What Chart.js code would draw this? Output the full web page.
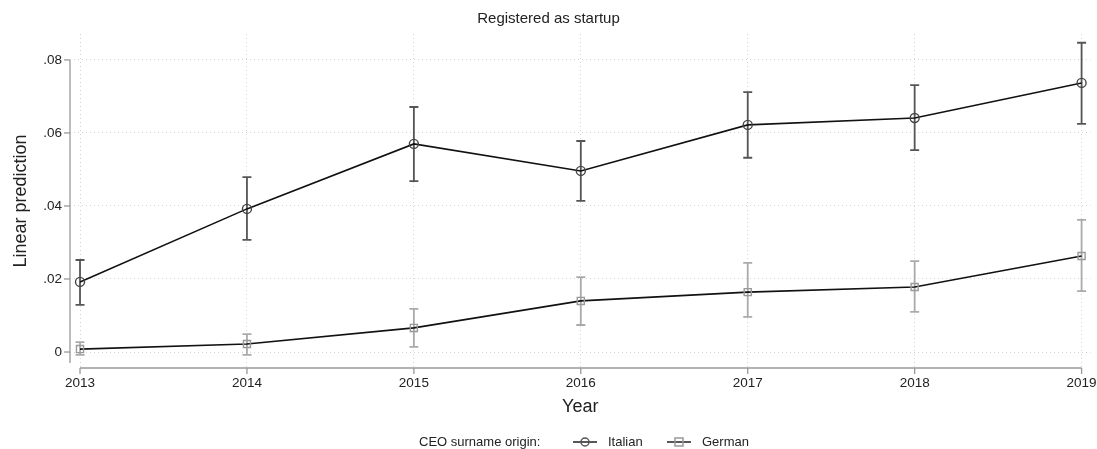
<!DOCTYPE html>
<html>
<head>
<meta charset="utf-8">
<script src="https://cdn.jsdelivr.net/npm/chart.js@4.4.1/dist/chart.umd.min.js"></script>
<style>
  html, body { margin: 0; padding: 0; background: #fff; overflow: hidden; }
  #wrap { width: 1097px; height: 449px; position: relative; }
  canvas { display: block; }
</style>
</head>
<body>
<div id="wrap"><canvas id="myChart"></canvas></div>
<script>
// datos
const anios = [2013, 2014, 2015, 2016, 2017, 2018, 2019];
const yTicks = [0, 0.02, 0.04, 0.06, 0.08];
const yTickLabels = ['0', '.02', '.04', '.06', '.08'];

const italiano = [0.0192, 0.0392, 0.0570, 0.0496, 0.0622, 0.0641, 0.0737];
const italianoBajo = [0.0129, 0.0307, 0.0468, 0.0414, 0.0532, 0.0553, 0.0625];
const italianoAlto = [0.0252, 0.0479, 0.0671, 0.0578, 0.0712, 0.0731, 0.0847];

const aleman = [0.0008, 0.0022, 0.0066, 0.0140, 0.0164, 0.0178, 0.0263];
const alemanBajo = [-0.0008, -0.0008, 0.0014, 0.0074, 0.0096, 0.0110, 0.0167];
const alemanAlto = [0.0027, 0.0049, 0.0118, 0.0205, 0.0244, 0.0249, 0.0362];

const fuente = "'Liberation Sans', Arial, sans-serif";
const colorTexto = '#222';

// barras de error y ejes estilo stata
const pluginStata = {
  id: 'stata',
  beforeDatasetsDraw(chart) {
    const ctx = chart.ctx;
    const x = chart.scales.x;
    const y = chart.scales.y;
    const area = chart.chartArea;
    ctx.save();
    // eje y
    ctx.strokeStyle = '#999';
    ctx.lineWidth = 1.3;
    const ejeX = area.left;
    ctx.beginPath();
    ctx.moveTo(ejeX, y.getPixelForValue(0.08));
    ctx.lineTo(ejeX, y.getPixelForValue(-0.003));
    ctx.stroke();
    yTicks.forEach(v => {
      const py = y.getPixelForValue(v);
      ctx.beginPath();
      ctx.moveTo(ejeX - 6, py);
      ctx.lineTo(ejeX, py);
      ctx.stroke();
    });
    // eje x con sus etiquetas
    const ejeY = area.bottom;
    ctx.beginPath();
    ctx.moveTo(x.getPixelForValue(anios[0]), ejeY);
    ctx.lineTo(x.getPixelForValue(anios[anios.length - 1]), ejeY);
    ctx.stroke();
    ctx.fillStyle = colorTexto;
    ctx.font = '13.5px ' + fuente;
    ctx.textAlign = 'center';
    ctx.textBaseline = 'top';
    anios.forEach(a => {
      const px = x.getPixelForValue(a);
      ctx.beginPath();
      ctx.moveTo(px, ejeY);
      ctx.lineTo(px, ejeY + 6);
      ctx.stroke();
      ctx.fillText(String(a), px, ejeY + 9);
    });

    const dibujarBarras = (bajos, altos, color) => {
      ctx.strokeStyle = color;
      ctx.lineWidth = 1.8;
      anios.forEach((a, i) => {
        const px = x.getPixelForValue(a);
        const p1 = y.getPixelForValue(bajos[i]);
        const p2 = y.getPixelForValue(altos[i]);
        ctx.beginPath();
        ctx.moveTo(px, p1);
        ctx.lineTo(px, p2);
        ctx.moveTo(px - 4.5, p1);
        ctx.lineTo(px + 4.5, p1);
        ctx.moveTo(px - 4.5, p2);
        ctx.lineTo(px + 4.5, p2);
        ctx.stroke();
      });
    };
    dibujarBarras(alemanBajo, alemanAlto, '#aaaaaa');
    dibujarBarras(italianoBajo, italianoAlto, '#555555');
    ctx.restore();
  },
  afterDraw(chart) {
    // leyenda en una sola linea
    const ctx = chart.ctx;
    ctx.save();
    ctx.font = '13px ' + fuente;
    ctx.fillStyle = colorTexto;
    ctx.textBaseline = 'middle';
    const yl = 442;
    ctx.fillText('CEO surname origin:', 419, yl);
    ctx.strokeStyle = '#222';
    ctx.lineWidth = 1.5;
    ctx.beginPath();
    ctx.moveTo(573, yl); ctx.lineTo(597, yl);
    ctx.moveTo(667, yl); ctx.lineTo(691, yl);
    ctx.stroke();
    ctx.strokeStyle = '#555';
    ctx.beginPath();
    ctx.arc(585, yl, 4, 0, Math.PI * 2);
    ctx.stroke();
    ctx.strokeStyle = '#999';
    ctx.strokeRect(675, yl - 4, 8, 8);
    ctx.fillText('Italian', 608, yl);
    ctx.fillText('German', 702, yl);
    ctx.restore();
  }
};

const config = {
  type: 'line',
  data: {
    datasets: [
      {
        label: 'German',
        data: anios.map((a, i) => ({ x: a, y: aleman[i] })),
        borderColor: '#111',
        borderWidth: 1.6,
        pointStyle: 'rect',
        pointRadius: 5,
        pointBorderColor: '#999',
        pointBorderWidth: 1.4,
        pointBackgroundColor: 'rgba(0,0,0,0)',
        tension: 0
      },
      {
        label: 'Italian',
        data: anios.map((a, i) => ({ x: a, y: italiano[i] })),
        borderColor: '#111',
        borderWidth: 1.6,
        pointStyle: 'circle',
        pointRadius: 4.5,
        pointBorderColor: '#444',
        pointBorderWidth: 1.4,
        pointBackgroundColor: 'rgba(0,0,0,0)',
        tension: 0
      }
    ]
  },
  options: {
    responsive: true,
    maintainAspectRatio: false,
    animation: false,
    layout: { padding: { left: 0, right: 0, top: 0, bottom: 31 } },
    plugins: {
      legend: { display: false },
      tooltip: { enabled: false },
      title: {
        display: true,
        text: 'Registered as startup',
        color: colorTexto,
        font: { family: fuente, size: 15, weight: 'normal' },
        padding: { top: 10, bottom: 6 }
      }
    },
    scales: {
      x: {
        type: 'linear',
        min: 2012.94,
        max: 2019.054,
        afterBuildTicks: s => { s.ticks = anios.map(a => ({ value: a })); },
        afterFit: s => { s.height = 50; },
        ticks: { display: false },
        grid: { color: '#d4d4d4', lineWidth: 1, drawTicks: false },
        border: { display: false, dash: [1, 3] },
        title: {
          display: true,
          text: 'Year',
          color: colorTexto,
          font: { family: fuente, size: 18 },
          padding: { top: 0, bottom: 0 }
        }
      },
      y: {
        min: -0.00438,
        max: 0.0871,
        afterBuildTicks: s => { s.ticks = yTicks.map(v => ({ value: v })); },
        afterFit: s => { s.width = 70; },
        ticks: {
          color: colorTexto,
          font: { family: fuente, size: 13.5 },
          padding: 8,
          callback: (v, i) => yTickLabels[i]
        },
        grid: { color: '#d4d4d4', lineWidth: 1, drawTicks: false },
        border: { display: false, dash: [1, 3] },
        title: {
          display: true,
          text: 'Linear prediction',
          color: colorTexto,
          font: { family: fuente, size: 18 },
          padding: { top: 10, bottom: 0 }
        }
      }
    }
  },
  plugins: [pluginStata]
};

const grafico = new Chart(document.getElementById('myChart'), config);
</script>
</body>
</html>
